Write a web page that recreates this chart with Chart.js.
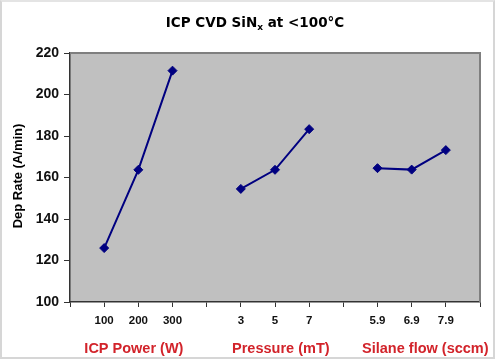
<!DOCTYPE html>
<html>
<head>
<meta charset="utf-8">
<script src="https://cdn.jsdelivr.net/npm/chart.js@4/dist/chart.umd.min.js"></script>
<style>
  html, body { margin: 0; padding: 0; background: #fff; }
  #wrap { position: relative; width: 500px; height: 361px; }
  #frame { position: absolute; left: 0; top: 0; width: 491px; height: 355px; border: 2px solid #d6d6d6; border-top-color: #e4e4e4; pointer-events: none; }
</style>
</head>
<body>
<div id="wrap">
  <canvas id="myChart" width="500" height="361"></canvas>
  <div id="frame"></div>
</div>
<script>
// data
const categories = ['', '100', '200', '300', '', '3', '5', '7', '', '5.9', '6.9', '7.9', ''];
const depRate = [null, 126, 163.7, 211.5, null, 154.5, 163.7, 183.3, null, 164.5, 163.8, 173.2, null];
const yTicks = [100, 120, 140, 160, 180, 200, 220];
const groupNames = ['ICP Power (W)', 'Pressure (mT)', 'Silane flow (sccm)'];
const groupCenters = [1.87, 6.17, 10.4]; // in category index units

// title with subscript + plot frame + group labels
const decor = {
  id: 'decor',
  beforeDatasetsDraw(chart) {
    const { ctx, chartArea: a } = chart;
    ctx.save();
    ctx.strokeStyle = '#7f7f7f';
    ctx.lineWidth = 2;
    ctx.beginPath();
    ctx.moveTo(a.left, a.top);
    ctx.lineTo(a.right, a.top);
    ctx.lineTo(a.right, a.bottom);
    ctx.stroke();
    ctx.restore();
  },
  afterDraw(chart) {
    const { ctx, chartArea: a } = chart;
    const x = chart.scales.x;
    ctx.save();
    // title
    const big = 'bold 13.5px "DejaVu Sans"';
    const small = 'bold 9px "DejaVu Sans"';
    const p1 = 'ICP CVD SiN', p2 = 'x', p3 = ' at <100°C';
    ctx.font = big;
    const w1 = ctx.measureText(p1).width, w3 = ctx.measureText(p3).width;
    ctx.font = small;
    const w2 = ctx.measureText(p2).width;
    let tx = 255 - (w1 + w2 + w3) / 2;
    ctx.fillStyle = '#000';
    ctx.textBaseline = 'alphabetic';
    ctx.textAlign = 'left';
    ctx.font = big; ctx.fillText(p1, tx, 27); tx += w1;
    ctx.font = small; ctx.fillText(p2, tx, 30); tx += w2;
    ctx.font = big; ctx.fillText(p3, tx, 27);
    // y title
    ctx.translate(18, 176);
    ctx.rotate(-Math.PI / 2);
    ctx.textAlign = 'center';
    ctx.textBaseline = 'middle';
    ctx.font = 'bold 13px "Liberation Sans"';
    ctx.fillText('Dep Rate (A/min)', 0, 0);
    ctx.restore();
    // group labels
    ctx.save();
    ctx.fillStyle = '#d2232a';
    ctx.font = 'bold 14.5px "Liberation Sans"';
    ctx.textAlign = 'center';
    ctx.textBaseline = 'middle';
    groupNames.forEach((g, i) => {
      ctx.fillText(g, x.getPixelForValue(groupCenters[i]), a.bottom + 47);
    });
    ctx.restore();
  }
};

const config = {
  type: 'line',
  data: {
    labels: categories,
    datasets: [{
      label: 'Dep Rate',
      data: depRate,
      borderColor: '#000080',
      backgroundColor: '#000080',
      borderWidth: 2,
      pointStyle: 'rectRot',
      pointRadius: 4.5,
      pointBorderWidth: 1,
      spanGaps: false,
      tension: 0
    }]
  },
  options: {
    responsive: false,
    animation: false,
    layout: { padding: { left: 0, right: 20, top: 53, bottom: 0 } },
    plugins: { legend: { display: false }, tooltip: { enabled: false } },
    scales: {
      x: {
        offset: false,
        afterFit(s) { s.height = 59; },
        grid: { drawOnChartArea: false, drawTicks: true, tickLength: 5, color: '#333' },
        border: { color: '#333', width: 1.5 },
        ticks: {
          autoSkip: false, maxRotation: 0, padding: 7,
          color: '#111', font: { family: 'Liberation Sans', size: 11.5, weight: 'bold' }
        }
      },
      y: {
        min: 100, max: 220,
        afterFit(s) { s.width = 70; },
        afterBuildTicks(s) { s.ticks = yTicks.map(v => ({ value: v })); },
        grid: { drawOnChartArea: false, drawTicks: true, tickLength: 6, color: '#333' },
        border: { color: '#333', width: 1.5 },
        ticks: {
          padding: 5,
          color: '#111', font: { family: 'Liberation Sans', size: 14, weight: 'bold' }
        }
      }
    }
  },
  plugins: [decor, {
    id: 'plotBg',
    beforeDraw(chart) {
      const { ctx, chartArea: a } = chart;
      ctx.save();
      ctx.fillStyle = '#c0c0c0';
      ctx.fillRect(a.left, a.top, a.right - a.left, a.bottom - a.top);
      ctx.restore();
    }
  }]
};

const myChart = new Chart(document.getElementById('myChart'), config);
</script>
</body>
</html>
